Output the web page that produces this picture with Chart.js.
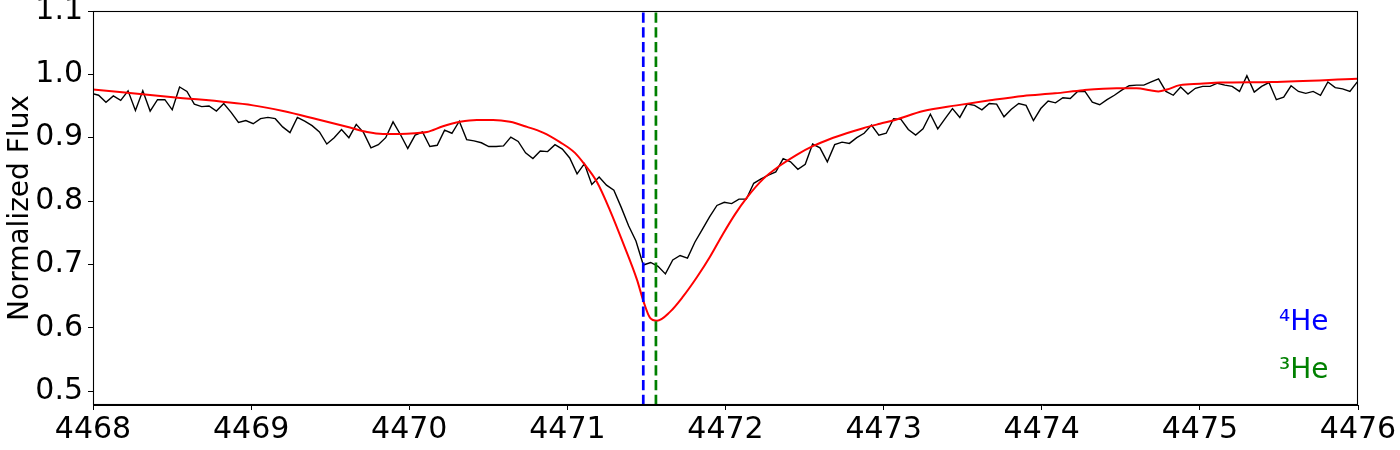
<!DOCTYPE html>
<html><head><meta charset="utf-8">
<script src="https://cdn.jsdelivr.net/npm/chart.js@4"></script>
<style>html,body{margin:0;padding:0;background:#fff;}canvas{display:block}</style>
</head><body>
<canvas id="c" width="1400" height="450"></canvas>
<script>
// Observed spectrum: regular wavelength grid (Angstrom)
const WAVE_START = 4467.989;
const WAVE_STEP = 0.04655;
const observedFlux = [
  0.970, 0.967, 0.956, 0.966, 0.959, 0.974, 0.943, 0.974, 0.942, 0.960,
  0.960, 0.944, 0.980, 0.973, 0.953, 0.949, 0.950, 0.942, 0.954, 0.940,
  0.924, 0.927, 0.922, 0.930, 0.932, 0.930, 0.917, 0.908, 0.932, 0.926,
  0.919, 0.909, 0.890, 0.900, 0.913, 0.900, 0.921, 0.908, 0.884, 0.889,
  0.900, 0.925, 0.905, 0.883, 0.904, 0.909, 0.886, 0.888, 0.912, 0.907,
  0.926, 0.897, 0.895, 0.892, 0.886, 0.886, 0.887, 0.901, 0.894, 0.876,
  0.867, 0.879, 0.878, 0.889, 0.882, 0.868, 0.843, 0.859, 0.826, 0.838,
  0.825, 0.817, 0.790, 0.761, 0.737, 0.699, 0.703, 0.697, 0.685, 0.707,
  0.714, 0.710, 0.735, 0.755, 0.775, 0.793, 0.798, 0.796, 0.803, 0.803,
  0.828, 0.835, 0.841, 0.846, 0.867, 0.862, 0.850, 0.858, 0.890, 0.884,
  0.862, 0.889, 0.893, 0.891, 0.900, 0.907, 0.920, 0.904, 0.907, 0.930,
  0.929, 0.913, 0.904, 0.914, 0.937, 0.914, 0.930, 0.946, 0.932, 0.953,
  0.951, 0.944, 0.954, 0.953, 0.933, 0.945, 0.954, 0.951, 0.927, 0.946,
  0.958, 0.955, 0.963, 0.962, 0.973, 0.973, 0.956, 0.952, 0.960, 0.967,
  0.975, 0.982, 0.983, 0.983, 0.988, 0.993, 0.973, 0.967, 0.980, 0.969,
  0.978, 0.981, 0.981, 0.986, 0.983, 0.981, 0.973, 0.998, 0.972, 0.981,
  0.987, 0.960, 0.964, 0.982, 0.973, 0.970, 0.973, 0.967, 0.988, 0.979,
  0.977, 0.973, 0.988
];

// Model spectrum (red)
const modelWave = [
  4468.000, 4468.506, 4469.012, 4469.202, 4469.417, 4469.625, 4469.733, 4469.834,
  4469.941, 4470.036, 4470.112, 4470.213, 4470.321, 4470.428, 4470.530, 4470.637,
  4470.745, 4470.846, 4470.953, 4471.048, 4471.105, 4471.187, 4471.270, 4471.352,
  4471.440, 4471.481, 4471.522, 4471.567, 4471.649, 4471.731, 4471.820, 4471.902,
  4471.984, 4472.060, 4472.134, 4472.239, 4472.345, 4472.450, 4472.555, 4472.661,
  4472.766, 4472.871, 4472.977, 4473.072, 4473.251, 4473.462, 4473.673, 4473.883,
  4474.084, 4474.263, 4474.474, 4474.600, 4474.685, 4474.738, 4474.792, 4474.874,
  4475.001, 4475.127, 4475.456, 4475.994
];
const modelFlux = [
  0.976, 0.964, 0.951, 0.942, 0.929, 0.916, 0.909, 0.906,
  0.906, 0.907, 0.909, 0.918, 0.925, 0.928, 0.928, 0.925,
  0.917, 0.908, 0.893, 0.876, 0.859, 0.830, 0.785, 0.734,
  0.676, 0.642, 0.616, 0.611, 0.625, 0.649, 0.680, 0.712,
  0.748, 0.779, 0.805, 0.835, 0.856, 0.873, 0.887, 0.898,
  0.907, 0.915, 0.922, 0.928, 0.942, 0.951, 0.959, 0.966,
  0.970, 0.975, 0.978, 0.978, 0.975, 0.973, 0.976, 0.983,
  0.985, 0.987, 0.988, 0.993
];

// Line positions
const he4Wave = 4471.48;
const he3Wave = 4471.56;

const xTicks = [4468, 4469, 4470, 4471, 4472, 4473, 4474, 4475, 4476];
const yTicks = [0.5, 0.6, 0.7, 0.8, 0.9, 1.0, 1.1];
const X_MIN = 4468, X_MAX = 4476, Y_MIN = 0.478, Y_MAX = 1.1;

const observedData = observedFlux.map((f, i) => ({ x: WAVE_START + i * WAVE_STEP, y: f }));
const modelData = modelWave.map((w, i) => ({ x: w, y: modelFlux[i] }));

const FONT = 'DejaVu Sans';

const framePlugin = {
  id: 'frame',
  afterDatasetsDraw(chart) {
    const a = chart.chartArea, ctx = chart.ctx;
    ctx.save();
    ctx.strokeStyle = '#000';
    ctx.lineWidth = 1.1;
    ctx.strokeRect(a.left + 0.5, a.top + 0.5, a.right - a.left - 1, a.bottom - a.top - 1);
    ctx.restore();
  },
  afterDraw(chart) {
    const a = chart.chartArea, ctx = chart.ctx;
    const w = a.right - a.left, h = a.bottom - a.top;
    ctx.save();
    ctx.font = '28px "' + FONT + '"';
    ctx.textBaseline = 'middle';
    ctx.textAlign = 'left';
    ctx.fillStyle = '#0000ff';
    ctx.fillText('\u2074He', a.left + 0.9375 * w, a.top + 0.792 * h);
    ctx.fillStyle = '#008000';
    ctx.fillText('\u00b3He', a.left + 0.9375 * w, a.top + 0.914 * h);
    ctx.restore();
  }
};

new Chart(document.getElementById('c'), {
  type: 'line',
  data: {
    datasets: [
      { label: 'observed', data: observedData, borderColor: '#000', borderWidth: 1.4,
        pointRadius: 0, tension: 0, fill: false, order: 3 },
      { label: 'model', data: modelData, borderColor: '#ff0000', borderWidth: 2,
        pointRadius: 0, cubicInterpolationMode: 'monotone', fill: false, order: 2 },
      { label: '4He', data: [{ x: he4Wave, y: Y_MIN }, { x: he4Wave, y: Y_MAX }],
        borderColor: '#0000ff', borderWidth: 2.7, borderDash: [10.3, 4.4], pointRadius: 0, order: 1 },
      { label: '3He', data: [{ x: he3Wave, y: Y_MIN }, { x: he3Wave, y: Y_MAX }],
        borderColor: '#008000', borderWidth: 2.7, borderDash: [10.3, 4.4], pointRadius: 0, order: 0 }
    ]
  },
  options: {
    responsive: false,
    devicePixelRatio: 1,
    animation: false,
    parsing: false,
    layout: { padding: { left: 0, right: 42, top: 11, bottom: 0 } },
    plugins: { legend: { display: false }, tooltip: { enabled: false } },
    scales: {
      x: {
        type: 'linear', min: X_MIN, max: X_MAX,
        afterBuildTicks: s => { s.ticks = xTicks.map(v => ({ value: v })); },
        ticks: { font: { family: FONT, size: 30, lineHeight: 1.0 }, color: '#000', padding: 5,
                 maxRotation: 0, autoSkip: false, callback: v => String(v) },
        grid: { display: true, drawOnChartArea: false, drawTicks: true, tickLength: 5, color: '#000' },
        border: { display: true, color: '#000', width: 1 },
        afterFit: s => { s.height = 45; s.paddingLeft = 0; s.paddingRight = 0; }
      },
      y: {
        type: 'linear', min: Y_MIN, max: Y_MAX,
        afterBuildTicks: s => { s.ticks = yTicks.map(v => ({ value: v })); },
        ticks: { font: { family: FONT, size: 30, lineHeight: 1.0 }, color: '#000', padding: 5,
                 autoSkip: false, callback: v => Number(v).toFixed(1) },
        grid: { display: true, drawOnChartArea: false, drawTicks: true, tickLength: 5, color: '#000' },
        border: { display: true, color: '#000', width: 1 },
        title: { display: true, text: 'Normalized Flux', color: '#000',
                 font: { family: FONT, size: 28, lineHeight: 1.2 }, padding: { top: 4, bottom: 0 } },
        afterFit: s => { s.width = 93; s.paddingTop = 0; s.paddingBottom = 0; }
      }
    }
  },
  plugins: [framePlugin]
});
</script>
</body></html>
